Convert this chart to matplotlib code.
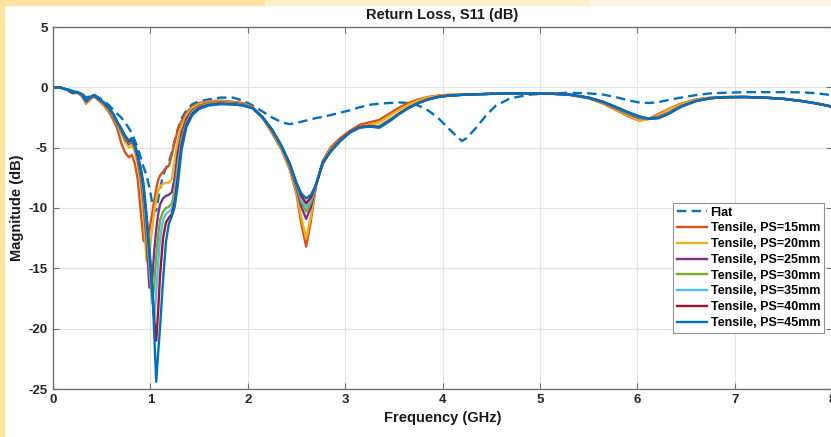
import matplotlib
matplotlib.use("Agg")
import matplotlib.pyplot as plt
from matplotlib.patches import Rectangle

plt.rcParams['font.family'] = ['Liberation Sans', 'DejaVu Sans']
plt.rcParams['axes.unicode_minus'] = False

# Frequency samples (GHz) shared by all traces
freq_ghz = [
    0.00, 0.08, 0.15, 0.20, 0.25, 0.30, 0.34, 0.38, 0.42, 0.47,
    0.52, 0.57, 0.62, 0.66, 0.70, 0.74, 0.78, 0.81, 0.84, 0.87,
    0.90, 0.93, 0.96, 0.99, 1.02, 1.04, 1.06, 1.08, 1.10, 1.13,
    1.16, 1.19, 1.22, 1.25, 1.28, 1.32, 1.37, 1.43, 1.50, 1.60,
    1.72, 1.85, 1.95, 2.05, 2.15, 2.25, 2.35, 2.43, 2.50, 2.55,
    2.60, 2.65, 2.70, 2.77, 2.85, 2.95, 3.05, 3.15, 3.25, 3.35,
    3.45, 3.55, 3.65, 3.75, 3.85, 3.95, 4.05, 4.15, 4.20, 4.25,
    4.35, 4.45, 4.55, 4.70, 4.90, 5.10, 5.30, 5.50, 5.65, 5.80,
    5.92, 6.02, 6.12, 6.22, 6.32, 6.45, 6.60, 6.75, 6.90, 7.10,
    7.30, 7.50, 7.70, 7.85, 8.00,
]

s11_flat = [
    0, -0.02, -0.15, -0.3, -0.4, -0.55, -0.85, -0.7, -0.6, -0.85,
    -1.1, -1.45, -1.85, -2.2, -2.5, -2.9, -3.4, -3.8, -4.4, -5.0,
    -5.8, -6.6, -7.3, -8.3, -9.6, -10.3, -10.2, -9.3, -8.4, -7.3,
    -6.7, -6.2, -5.4, -4.4, -3.5, -2.6, -1.9, -1.4, -1.15, -1.0,
    -0.85, -0.85, -1.1, -1.5, -2.0, -2.5, -2.9, -3.05, -2.95, -2.85,
    -2.75, -2.65, -2.55, -2.45, -2.3, -2.1, -1.9, -1.65, -1.45, -1.35,
    -1.3, -1.25, -1.3, -1.5, -1.9, -2.5, -3.3, -4.1, -4.45, -4.2,
    -3.3, -2.3, -1.5, -0.9, -0.6, -0.5, -0.45, -0.5, -0.6, -0.85,
    -1.1, -1.25, -1.3, -1.22, -1.05, -0.85, -0.65, -0.5, -0.45, -0.4,
    -0.4, -0.4, -0.42, -0.5, -0.65,
]

s11_ps15 = [
    0, -0.03, -0.22, -0.5, -0.45, -0.75, -1.35, -1.0, -0.75, -1.1,
    -1.45, -2.0, -2.7, -3.4, -4.6, -5.4, -5.8, -5.6, -6.3, -7.6,
    -10.2, -12.7, -13.0, -11.8, -10.4, -9.4, -8.4, -7.7, -7.3, -7.0,
    -6.7, -6.5, -5.6, -4.5, -3.6, -2.8, -2.1, -1.6, -1.3, -1.15,
    -1.1, -1.2, -1.3, -1.65, -2.5, -3.8, -5.2, -6.8, -8.8, -11.3,
    -13.2, -11.0, -8.2, -6.1, -5.0, -4.2, -3.6, -3.1, -2.9, -2.7,
    -2.2, -1.7, -1.3, -1.0, -0.8, -0.68, -0.62, -0.6, -0.6, -0.58,
    -0.57, -0.55, -0.52, -0.5, -0.5, -0.52, -0.62, -0.9, -1.35, -1.95,
    -2.45, -2.75, -2.6, -2.2, -1.8, -1.35, -1.0, -0.85, -0.8, -0.8,
    -0.85, -0.95, -1.15, -1.35, -1.6,
]

s11_ps20 = [
    0, -0.03, -0.21, -0.48, -0.42, -0.7, -1.3, -0.95, -0.72, -1.05,
    -1.35, -1.85, -2.5, -3.1, -3.8, -4.5, -5.0, -4.8, -5.3, -6.4,
    -8.0, -10.5, -14.4, -13.8, -11.6, -10.3, -9.3, -8.6, -8.2, -8.0,
    -7.9, -7.9, -7.6, -6.0, -4.5, -3.2, -2.3, -1.7, -1.4, -1.2,
    -1.15, -1.25, -1.35, -1.65, -2.5, -3.7, -5.1, -6.7, -8.6, -10.8,
    -12.5, -10.6, -8.1, -6.2, -5.2, -4.4, -3.7, -3.3, -3.1, -2.9,
    -2.4, -1.9, -1.45, -1.1, -0.85, -0.72, -0.65, -0.6, -0.6, -0.58,
    -0.57, -0.55, -0.52, -0.5, -0.5, -0.52, -0.62, -0.9, -1.3, -1.9,
    -2.4, -2.75, -2.65, -2.3, -1.85, -1.4, -1.05, -0.87, -0.8, -0.8,
    -0.85, -0.95, -1.15, -1.35, -1.6,
]

s11_ps25 = [
    0, -0.03, -0.2, -0.46, -0.4, -0.65, -1.2, -0.9, -0.7, -1.0,
    -1.3, -1.75, -2.4, -3.0, -3.6, -4.3, -4.7, -4.5, -5.0, -6.0,
    -7.3, -9.5, -12.5, -16.6, -15.8, -13.5, -11.8, -10.5, -9.7, -9.2,
    -9.0, -8.9, -8.7, -7.5, -5.5, -3.8, -2.6, -1.9, -1.55, -1.3,
    -1.25, -1.3, -1.4, -1.7, -2.45, -3.6, -5.0, -6.5, -8.3, -9.9,
    -10.9, -9.9, -8.1, -6.3, -5.3, -4.4, -3.7, -3.3, -3.25, -3.3,
    -2.8, -2.2, -1.7, -1.3, -1.0, -0.8, -0.7, -0.65, -0.62, -0.6,
    -0.58, -0.55, -0.52, -0.5, -0.5, -0.52, -0.6, -0.88, -1.25, -1.8,
    -2.25, -2.55, -2.6, -2.45, -2.1, -1.55, -1.12, -0.9, -0.82, -0.8,
    -0.85, -0.95, -1.15, -1.35, -1.6,
]

s11_ps30 = [
    0, -0.03, -0.2, -0.45, -0.4, -0.62, -1.18, -0.85, -0.68, -0.97,
    -1.27, -1.7, -2.35, -2.95, -3.5, -4.2, -4.6, -4.4, -4.9, -5.9,
    -7.0, -9.0, -11.8, -15.0, -17.9, -16.3, -14.0, -12.3, -11.0, -10.3,
    -10.0, -9.9, -9.6, -8.5, -6.5, -4.3, -2.9, -2.0, -1.6, -1.35,
    -1.3, -1.35, -1.45, -1.7, -2.45, -3.55, -5.0, -6.4, -8.1, -9.5,
    -10.3, -9.5, -8.1, -6.3, -5.3, -4.4, -3.7, -3.3, -3.2, -3.2,
    -2.7, -2.2, -1.7, -1.3, -1.0, -0.8, -0.7, -0.65, -0.62, -0.6,
    -0.58, -0.55, -0.52, -0.5, -0.5, -0.52, -0.6, -0.86, -1.22, -1.75,
    -2.2, -2.5, -2.6, -2.5, -2.15, -1.58, -1.13, -0.9, -0.82, -0.8,
    -0.85, -0.95, -1.15, -1.35, -1.6,
]

s11_ps35 = [
    0, -0.03, -0.2, -0.45, -0.39, -0.61, -1.16, -0.83, -0.66, -0.96,
    -1.26, -1.65, -2.3, -2.9, -3.45, -4.1, -4.5, -4.3, -4.85, -5.8,
    -6.9, -8.6, -11.3, -14.5, -17.5, -19.2, -17.0, -14.5, -12.5, -11.0,
    -10.5, -10.3, -10.1, -9.0, -7.0, -4.5, -3.0, -2.1, -1.65, -1.4,
    -1.3, -1.38, -1.48, -1.7, -2.45, -3.5, -4.95, -6.35, -8.0, -9.3,
    -9.9, -9.3, -8.1, -6.3, -5.3, -4.4, -3.7, -3.3, -3.2, -3.3,
    -2.8, -2.2, -1.7, -1.3, -1.0, -0.8, -0.7, -0.65, -0.62, -0.6,
    -0.58, -0.55, -0.52, -0.5, -0.5, -0.52, -0.6, -0.85, -1.2, -1.72,
    -2.15, -2.47, -2.6, -2.52, -2.17, -1.6, -1.14, -0.9, -0.82, -0.8,
    -0.85, -0.95, -1.15, -1.35, -1.6,
]

s11_ps40 = [
    0, -0.03, -0.2, -0.45, -0.39, -0.6, -1.15, -0.82, -0.65, -0.95,
    -1.25, -1.65, -2.25, -2.9, -3.4, -4.05, -4.5, -4.3, -4.8, -5.7,
    -6.8, -8.3, -10.8, -13.8, -16.8, -19.3, -21.0, -18.5, -15.5, -12.5,
    -11.2, -10.8, -10.5, -9.5, -7.6, -4.8, -3.1, -2.2, -1.7, -1.45,
    -1.35, -1.4, -1.5, -1.72, -2.45, -3.5, -4.9, -6.3, -7.95, -9.0,
    -9.6, -9.1, -8.1, -6.3, -5.3, -4.4, -3.7, -3.3, -3.2, -3.3,
    -2.8, -2.2, -1.7, -1.3, -1.0, -0.8, -0.7, -0.65, -0.62, -0.6,
    -0.58, -0.55, -0.52, -0.5, -0.5, -0.52, -0.6, -0.85, -1.2, -1.7,
    -2.12, -2.43, -2.6, -2.54, -2.2, -1.6, -1.15, -0.9, -0.82, -0.8,
    -0.85, -0.95, -1.15, -1.35, -1.6,
]

s11_ps45 = [
    0, -0.03, -0.2, -0.45, -0.38, -0.6, -1.15, -0.8, -0.65, -0.95,
    -1.25, -1.6, -2.2, -2.85, -3.4, -4.0, -4.4, -4.2, -4.7, -5.6,
    -6.6, -8.0, -10.5, -13.3, -16.5, -20.5, -24.4, -22.0, -19.8, -16.0,
    -12.8, -11.3, -10.7, -9.9, -8.2, -5.2, -3.3, -2.3, -1.8, -1.5,
    -1.4, -1.42, -1.5, -1.75, -2.5, -3.5, -4.9, -6.3, -7.9, -8.8,
    -9.2, -8.9, -8.1, -6.2, -5.35, -4.45, -3.75, -3.35, -3.25, -3.35,
    -2.85, -2.25, -1.72, -1.32, -1.02, -0.82, -0.7, -0.65, -0.62, -0.6,
    -0.58, -0.55, -0.52, -0.5, -0.5, -0.52, -0.6, -0.85, -1.2, -1.7,
    -2.1, -2.4, -2.6, -2.55, -2.2, -1.6, -1.15, -0.9, -0.82, -0.8,
    -0.85, -0.95, -1.15, -1.35, -1.6,
]

legend_labels = ["Flat", "Tensile, PS=15mm", "Tensile, PS=20mm", "Tensile, PS=25mm",
                 "Tensile, PS=30mm", "Tensile, PS=35mm", "Tensile, PS=40mm",
                 "Tensile, PS=45mm"]
x_ticks = [0, 1, 2, 3, 4, 5, 6, 7, 8]
y_ticks = [-25, -20, -15, -10, -5, 0, 5]

colors = ["#0072BD", "#D95319", "#EDB120", "#7E2F8E", "#77AC30",
          "#4DBEEE", "#A2142F", "#0072BD"]
series = [s11_flat, s11_ps15, s11_ps20, s11_ps25, s11_ps30,
          s11_ps35, s11_ps40, s11_ps45]

W, H = 831, 437
fig = plt.figure(figsize=(W / 100, H / 100), dpi=100)
fig.patch.set_facecolor("white")

# slide-style pale orange frame along the top and left edges
for x0, w, c in [(0, 265, "#FFE3A0"), (265, 325, "#FFEFCB"), (590, 241, "#FFF6E6")]:
    fig.patches.append(Rectangle((x0 / W, 1 - 5 / H), w / W, 5 / H,
                                 transform=fig.transFigure, color=c, zorder=0))
fig.patches.append(Rectangle((0, 0), 4 / W, 1, transform=fig.transFigure,
                             color="#FFE3A0", zorder=0))

ax_left, ax_right, ax_top, ax_bottom = 53, 832, 27, 389
ax = fig.add_axes([ax_left / W, 1 - ax_bottom / H,
                   (ax_right - ax_left) / W, (ax_bottom - ax_top) / H])

for i, (vals, col, lab) in enumerate(zip(series, colors, legend_labels)):
    if i == 0:
        ax.plot(freq_ghz, vals, color=col, lw=1.7, ls=(0, (4, 2.2)), label=lab)
    else:
        ax.plot(freq_ghz, vals, color=col, lw=1.7, label=lab)

ax.set_xlim(0, 8)
ax.set_ylim(-25, 5)
ax.set_xticks(x_ticks)
ax.set_yticks(y_ticks)
ax.grid(True, color="#e3e3e3", lw=0.8)
ax.set_axisbelow(True)
ax.tick_params(direction="in", length=4.5, width=0.8, color="#707070",
               top=True, right=True, labelsize=9.5, labelcolor="#262626")
ax.tick_params(axis="y", pad=4)
ax.tick_params(axis="x", pad=3.5)
for lbl in ax.get_xticklabels() + ax.get_yticklabels():
    lbl.set_fontweight("bold")
for sp in ax.spines.values():
    sp.set_color("#707070")
    sp.set_linewidth(1.0)

ax.set_title("Return Loss, S11 (dB)", fontsize=10.5, fontweight="bold",
             color="#1a1a1a", pad=6)
ax.set_xlabel("Frequency (GHz)", fontsize=10.5, fontweight="bold",
              color="#1a1a1a", labelpad=4)
ax.set_ylabel("Magnitude (dB)", fontsize=10.5, fontweight="bold",
              color="#1a1a1a")
ax.yaxis.set_label_coords(-0.037, 0.5)

leg = ax.legend(loc="upper left", bbox_to_anchor=(0.796, 0.514),
                borderaxespad=0, handlelength=2.4,
                handletextpad=0.3, borderpad=0.3, labelspacing=0.3,
                fancybox=False, framealpha=1, edgecolor="#909090",
                prop={"weight": "bold", "size": 9})
leg.get_frame().set_linewidth(0.8)

fig.savefig("out.png", dpi=100)
